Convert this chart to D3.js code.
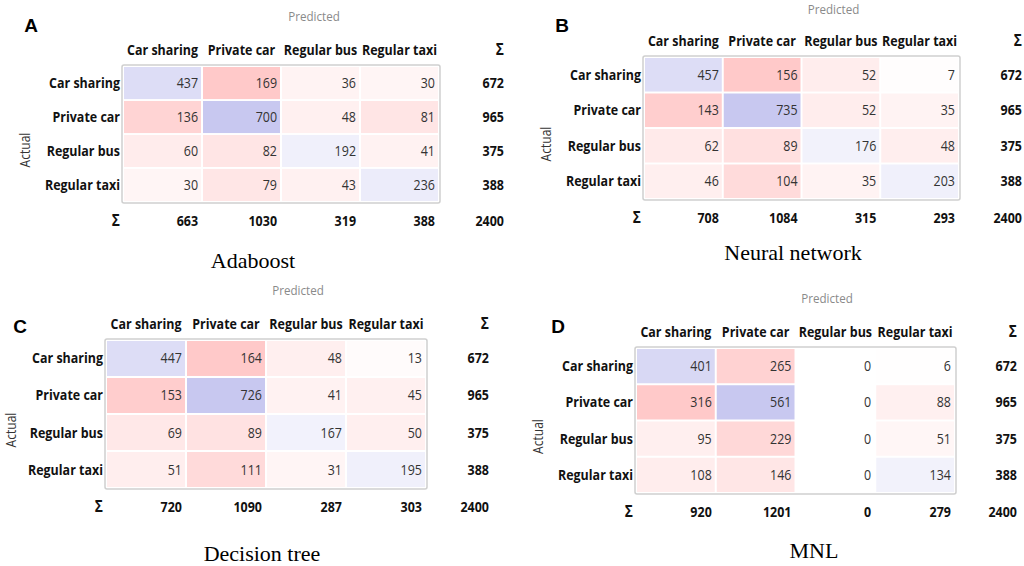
<!DOCTYPE html>
<html>
<head>
<meta charset="utf-8">
<script src="https://cdn.jsdelivr.net/npm/d3@7"></script>
<style>
  html, body { margin: 0; padding: 0; background: #fff; }
  svg { display: block; }
</style>
</head>
<body>
<div id="chart"></div>
<script>
// classes shared by all four confusion matrices
var classes = ["Car sharing", "Private car", "Regular bus", "Regular taxi"];

// rows = actual, columns = predicted
var adaboost = [[437, 169, 36, 30], [136, 700, 48, 81], [60, 82, 192, 41], [30, 79, 43, 236]];
var neuralNet = [[457, 156, 52, 7], [143, 735, 52, 35], [62, 89, 176, 48], [46, 104, 35, 203]];
var decisionTree = [[447, 164, 48, 13], [153, 726, 41, 45], [69, 89, 167, 50], [51, 111, 31, 195]];
var mnl = [[401, 265, 0, 6], [316, 561, 0, 88], [95, 229, 0, 51], [108, 146, 0, 134]];

var letters = ["A", "B", "C", "D"];
var titles = ["Adaboost", "Neural network", "Decision tree", "MNL"];
var matrices = [adaboost, neuralNet, decisionTree, mnl];

// where each panel sits on the page
var layouts = [
  { x0: 124, x1: 438, y0: 67, y1: 201, sumX: 504, tx: 253, ty: 268, lx: 31, ly: 32 },
  { x0: 645, x1: 958, y0: 58, y1: 198, sumX: 1022, tx: 793, ty: 260, lx: 562, ly: 32 },
  { x0: 107, x1: 425, y0: 341, y1: 487, sumX: 489, tx: 262, ty: 561, lx: 20, ly: 333 },
  { x0: 637, x1: 954, y0: 349, y1: 492, sumX: 1017, tx: 814, ty: 558, lx: 558, ly: 333 }
];

var W = 1024, H = 566;
var FONT = "'Open Sans', 'Noto Sans', sans-serif";
var FS = 14.5;   // table font size
var SX = 0.86;   // horizontal squeeze, the source font is narrow

var svg = d3.select("#chart").append("svg")
    .attr("width", W)
    .attr("height", H);

// put a text at (fx, fy) and squeeze it sideways
function place(sel, fx, fy) {
  return sel.attr("transform", function (d, i) {
    var px = typeof fx === "function" ? fx(d, i) : fx;
    var py = typeof fy === "function" ? fy(d, i) : fy;
    return "translate(" + px + "," + py + ") scale(" + SX + ",1)";
  });
}

function tableText(sel, weight, color, size) {
  return sel.attr("font-family", FONT)
      .attr("font-weight", weight)
      .attr("font-size", size || FS)
      .attr("fill", color);
}

function drawPanel(m, L, letter, title) {
  var g = svg.append("g");

  var x = d3.scaleBand().domain(classes).range([L.x0, L.x1]).paddingInner(0.025);
  var y = d3.scaleBand().domain(classes).range([L.y0, L.y1]).paddingInner(0.055);

  var cells = [];
  m.forEach(function (row, i) {
    row.forEach(function (v, j) {
      cells.push({ actual: classes[i], pred: classes[j], value: v, diag: i === j });
    });
  });

  var maxDiag = d3.max(cells.filter(function (c) { return c.diag; }), function (c) { return c.value; });
  var maxOff = d3.max(cells.filter(function (c) { return !c.diag; }), function (c) { return c.value; });
  var blue = d3.scaleLinear().domain([0, maxDiag]).range(["#ffffff", "#c8c8f0"]);
  var red = d3.scaleLinear().domain([0, maxOff]).range(["#ffffff", "#ffc9c9"]);

  var rowSums = m.map(function (r) { return d3.sum(r); });
  var colSums = classes.map(function (c, j) { return d3.sum(m, function (r) { return r[j]; }); });
  var total = d3.sum(rowSums);

  // frame of the table
  g.append("rect")
      .attr("x", L.x0 - 2)
      .attr("y", L.y0 - 2)
      .attr("width", L.x1 - L.x0 + 4)
      .attr("height", L.y1 - L.y0 + 4)
      .attr("rx", 2)
      .attr("fill", "#fff")
      .attr("stroke", "#cfcfcf")
      .attr("stroke-width", 1.5);

  g.selectAll("rect.cell").data(cells).enter().append("rect")
      .attr("class", "cell")
      .attr("x", function (d) { return x(d.pred); })
      .attr("y", function (d) { return y(d.actual); })
      .attr("width", x.bandwidth())
      .attr("height", y.bandwidth())
      .attr("fill", function (d) { return d.diag ? blue(d.value) : red(d.value); });

  var rowY = function (c) { return y(c) + y.bandwidth() / 2 + 5; };

  tableText(place(g.selectAll("text.val").data(cells).enter().append("text").attr("class", "val"),
      function (d) { return x(d.pred) + x.bandwidth() - 3; },
      function (d) { return rowY(d.actual); }), "normal", "#333")
      .attr("text-anchor", "end")
      .text(function (d) { return d.value; });

  // column headers
  tableText(place(g.selectAll("text.colh").data(classes).enter().append("text").attr("class", "colh"),
      function (d) { return x(d) + x.bandwidth() / 2; }, L.y0 - 12), "bold", "#111")
      .attr("text-anchor", "middle")
      .text(function (d) { return d; });

  // row headers
  tableText(place(g.selectAll("text.rowh").data(classes).enter().append("text").attr("class", "rowh"),
      L.x0 - 4, rowY), "bold", "#111")
      .attr("text-anchor", "end")
      .text(function (d) { return d; });

  // row sums
  tableText(place(g.selectAll("text.rsum").data(rowSums).enter().append("text").attr("class", "rsum"),
      L.sumX, function (d, i) { return rowY(classes[i]); }), "bold", "#111")
      .attr("text-anchor", "end")
      .text(function (d) { return d; });

  // column sums
  var sumY = L.y1 + 25;
  tableText(place(g.selectAll("text.csum").data(colSums).enter().append("text").attr("class", "csum"),
      function (d, j) { return x(classes[j]) + x.bandwidth() - 3; }, sumY), "bold", "#111")
      .attr("text-anchor", "end")
      .text(function (d) { return d; });

  tableText(place(g.append("text"), L.sumX, sumY), "bold", "#111")
      .attr("text-anchor", "end").text(total);
  tableText(place(g.append("text"), L.sumX, L.y0 - 12), "bold", "#111", 16)
      .attr("text-anchor", "end").text("\u03a3");
  tableText(place(g.append("text"), L.x0 - 4, sumY), "bold", "#111", 16)
      .attr("text-anchor", "end").text("\u03a3");

  tableText(place(g.append("text"), (L.x0 + L.sumX) / 2, Math.max(L.y0 - 46, 14)), "normal", "#8a8a8a", 13.5)
      .attr("text-anchor", "middle")
      .text("Predicted");

  var ay = (L.y0 + L.y1) / 2 + 16;
  var ax = Math.max(L.x0 - 94, 16);
  g.append("text")
      .attr("transform", "translate(" + ax + "," + ay + ") rotate(-90) scale(" + SX + ",1)")
      .attr("text-anchor", "middle")
      .attr("font-family", FONT)
      .attr("font-size", 14)
      .attr("fill", "#333")
      .text("Actual");

  g.append("text")
      .attr("x", L.lx)
      .attr("y", L.ly)
      .attr("text-anchor", "middle")
      .attr("font-family", "'Liberation Sans', Arial, sans-serif")
      .attr("font-weight", "bold")
      .attr("font-size", 19)
      .attr("fill", "#000")
      .text(letter);

  g.append("text")
      .attr("x", L.tx)
      .attr("y", L.ty)
      .attr("text-anchor", "middle")
      .attr("font-family", "'Liberation Serif', 'Times New Roman', serif")
      .attr("font-size", 22)
      .attr("fill", "#000")
      .text(title);
}

matrices.forEach(function (m, i) {
  drawPanel(m, layouts[i], letters[i], titles[i]);
});
</script>
</body>
</html>
